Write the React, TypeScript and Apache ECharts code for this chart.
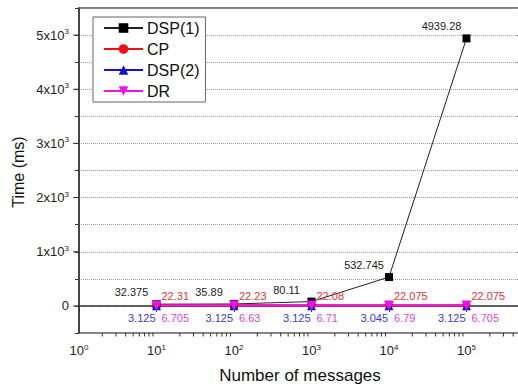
import React, { useEffect, useRef } from "react";
import * as echarts from "echarts";

const xValues = [10, 100, 1000, 10000, 100000];
const dsp1 = [32.375, 35.89, 80.11, 532.745, 4939.28];
const cp = [22.31, 22.23, 22.08, 22.075, 22.075];
const dsp2 = [3.125, 3.125, 3.125, 3.045, 3.125];
const dr = [6.705, 6.63, 6.71, 6.79, 6.705];
const seriesNames = ["DSP(1)", "CP", "DSP(2)", "DR"];
const yTickLabels = [0, 1000, 2000, 3000, 4000, 5000];
const xTickLabels = [1, 10, 100, 1000, 10000, 100000];
const Y_MIN = -500;
const Y_MAX = 5500;
const X_MIN = 1;
const X_MAX = 1000000;
// minor tick values for the log x axis: k * 10^d, k = 2..9
const xMinorTicks: number[] = [];
for (let d = 1; d <= 100000; d *= 10) {
  for (let k = 2; k <= 9; k++) xMinorTicks.push(k * d);
}

const FONT = "Liberation Sans, Arial, sans-serif";

export default function App() {
  const ref = useRef<HTMLDivElement>(null);
  useEffect(() => {
    if (!ref.current) return;
    const chart = echarts.init(ref.current, undefined, { renderer: "svg" });
    const pairs = (ys: number[]) => ys.map((y, i) => [xValues[i], y]);
    const mkLabel = (color: string, align: string, offset: number[]) => ({
      show: true,
      position: ["50%", "50%"],
      align,
      verticalAlign: "middle",
      offset,
      color,
      fontSize: 11,
      fontFamily: FONT,
    });
    chart.setOption({
      animation: false,
      textStyle: { fontFamily: FONT },
      grid: {
        left: 79,
        top: 8,
        width: 465,
        height: 325,
        outerBoundsMode: "none",
        containLabel: false,
        show: true,
        borderColor: "#555",
        borderWidth: 1.5,
      },
      legend: {
        left: 93,
        top: 17,
        orient: "vertical",
        padding: [3, 6, 3, 10],
        itemWidth: 39,
        itemHeight: 12,
        itemGap: 5,
        backgroundColor: "#fff",
        borderColor: "#666",
        borderWidth: 1,
        borderRadius: 0,
        textStyle: { fontSize: 16, color: "#111", fontFamily: FONT, padding: [0, 0, 0, -1] },
        data: seriesNames,
      },
      xAxis: {
        type: "log",
        logBase: 10,
        min: X_MIN,
        max: X_MAX,
        position: "bottom",
        axisLine: { lineStyle: { color: "#333", width: 1.5 } },
        axisTick: { show: true, length: 6, lineStyle: { color: "#333" } },
        splitLine: { show: false },
        axisLabel: {
          color: "#222",
          margin: 10,
          formatter: (v: number) => {
            const r = xTickLabels.find((t) => Math.abs(t - v) / t < 1e-6);
            if (r === undefined) return "";
            return `{b|10}{s|${Math.round(Math.log10(r))}}`;
          },
          rich: {
            b: { fontSize: 13, fontFamily: FONT, color: "#222" },
            s: { fontSize: 8, fontFamily: FONT, color: "#222", padding: [0, 0, 7, 0] },
          },
        },
      },
      yAxis: {
        type: "value",
        min: Y_MIN,
        max: Y_MAX,
        interval: 500,
        axisLine: { show: true, lineStyle: { color: "#333", width: 1.5 } },
        axisTick: { show: true, length: 4, lineStyle: { color: "#333" } },
        splitLine: { show: true, lineStyle: { color: "#999", type: "dotted", width: 1 } },
        axisLabel: {
          margin: 10,
          formatter: (v: number) => {
            if (!yTickLabels.includes(v)) return "";
            if (v === 0) return "{b|0}";
            return `{b|${v / 1000}x10}{s|3}`;
          },
          rich: {
            b: { fontSize: 13, fontFamily: FONT, color: "#222" },
            s: { fontSize: 8, fontFamily: FONT, color: "#222", padding: [0, 0, 7, 0] },
          },
        },
      },
      series: [
        {
          name: seriesNames[0],
          type: "line",
          data: pairs(dsp1),
          symbol: "rect",
          symbolSize: 8,
          color: "#000",
          lineStyle: { width: 1, color: "#222" },
          label: mkLabel("#222", "center", [-25, -12]),
        },
        {
          name: seriesNames[1],
          type: "line",
          data: pairs(cp),
          symbol: "circle",
          symbolSize: 8,
          color: "#ee1111",
          lineStyle: { width: 1 },
          label: mkLabel("#e03535", "left", [5, -9]),
        },
        {
          name: seriesNames[2],
          type: "line",
          data: pairs(dsp2),
          symbol: "triangle",
          symbolSize: 9,
          color: "#1111dd",
          lineStyle: { width: 1 },
          label: mkLabel("#3a3acc", "right", [-1, 12]),
        },
        {
          name: seriesNames[3],
          type: "line",
          data: pairs(dr),
          symbol: "triangle",
          symbolRotate: 180,
          symbolSize: 10,
          color: "#ee11ee",
          lineStyle: { width: 2 },
          label: mkLabel("#dd44dd", "left", [5, 12]),
        },
        {
          // minor ticks of the log x axis
          type: "custom",
          silent: true,
          clip: false,
          data: xMinorTicks.map((v) => [v, Y_MIN]),
          renderItem: (_p: any, api: any) => {
            const pt = api.coord([api.value(0), api.value(1)]);
            return {
              type: "line",
              shape: { x1: pt[0], y1: pt[1], x2: pt[0], y2: pt[1] + 3.5 },
              style: { stroke: "#333", lineWidth: 1 },
            };
          },
        },
        {
          // longer major ticks on the y axis
          type: "custom",
          silent: true,
          clip: false,
          data: yTickLabels.map((v) => [X_MIN, v]),
          renderItem: (_p: any, api: any) => {
            const pt = api.coord([api.value(0), api.value(1)]);
            return {
              type: "line",
              shape: { x1: pt[0] - 6, y1: pt[1], x2: pt[0], y2: pt[1] },
              style: { stroke: "#333", lineWidth: 1 },
            };
          },
        },
      ],
      graphic: [
        {
          type: "text",
          x: 18,
          y: 172,
          rotation: Math.PI / 2,
          style: {
            text: "Time (ms)",
            font: `16px ${FONT}`,
            fill: "#111",
            align: "center",
            verticalAlign: "middle",
          },
        },
        {
          type: "text",
          x: 300,
          y: 375,
          style: {
            text: "Number of messages",
            font: `17px ${FONT}`,
            fill: "#111",
            align: "center",
            verticalAlign: "middle",
          },
        },
      ],
    });
    return () => chart.dispose();
  }, []);
  return <div ref={ref} style={{ width: 518, height: 386, position: "absolute", left: 0, top: 0 }} />;
}
